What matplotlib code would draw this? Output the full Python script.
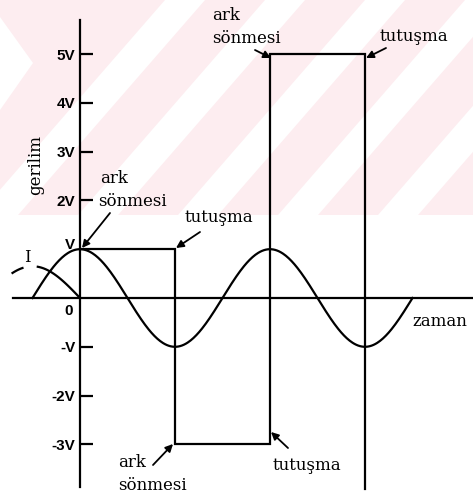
import numpy as np
import matplotlib
matplotlib.use("Agg")
import matplotlib.pyplot as plt
from matplotlib.patches import Polygon

# Gerilim ekseni (V birimi) ve etiketleri
volt_ticks = [5, 4, 3, 2, -1, -2, -3]
volt_labels = ["5V", "4V", "3V", "2V", "-V", "-2V", "-3V"]

# Şebeke gerilimi: genlik V, zaman yarım periyot birimi
supply_amp = 1.0
supply_start, supply_end = -0.5, 3.5

# Akım (I), kesikli çizgi, sıfırdan geçişe kadar
current_amp = 0.65
current_start, current_end = -0.72, 0.0

# Ark gerilimi: ark sönmesi / tutuşma köşeleri
arc_t = [0, 1, 1, 2, 2, 3, 3]
arc_v = [1, 1, -3, -3, 5, 5, -3.92]

W, H = 473, 495
PX_T, PX_V = 95.0, 48.8   # piksel / birim
X0, Y0 = 80.0, 298.0      # orijinin piksel konumu


def px(x, y):
    # piksel konumunu veri koordinatına çevir
    return (x - X0) / PX_T, (Y0 - y) / PX_V


def fig_poly(points, color):
    return Polygon([(x / W, 1 - y / H) for x, y in points], closed=True,
                   transform=fig.transFigure, fc=color, ec="none", zorder=-5)


fig = plt.figure(figsize=(W / 100, H / 100), dpi=100)

# arka plandaki soluk pembe filigran
pink = "#fdedf0"
fig.patches.append(fig_poly([(0, 0), (W, 0), (W, 215), (0, 215)], pink))
slope = 1.15
for u in [185, 285, 385, 485, 585]:
    a, b = u - 20, u + 20
    band = [(a, 0), (b, 0), (b - 215 / slope, 215), (a - 215 / slope, 215)]
    fig.patches.append(fig_poly(band, "white"))
fig.patches.append(fig_poly([(0, 17), (33, 63), (0, 110)], "white"))

ax = fig.add_axes([0, 0, 1, 1])
ax.patch.set_alpha(0)
ax.set_zorder(2)
ax.set_xlim(px(0, 0)[0], px(W, 0)[0])
ax.set_ylim(px(0, H)[1], px(0, 0)[1])

lw = 1.6
ax.spines["top"].set_visible(False)
ax.spines["right"].set_visible(False)
ax.spines["left"].set_position(("data", 0))
ax.spines["bottom"].set_position(("data", 0))
ax.spines["left"].set_bounds(px(0, 487)[1], px(0, 20)[1])
ax.spines["bottom"].set_bounds(px(13, 0)[0], px(W, 0)[0])
ax.spines["left"].set_linewidth(lw)
ax.spines["bottom"].set_linewidth(lw)
ax.set_xticks([])
ax.set_yticks(volt_ticks)
ax.set_yticklabels(volt_labels, fontfamily="Liberation Sans", fontweight="bold", fontsize=11)
ax.tick_params(axis="y", direction="in", length=9.5, width=lw, pad=3.5)

# şebeke gerilimi
t = np.linspace(supply_start, supply_end, 400)
ax.plot(t, supply_amp * np.cos(np.pi * t), color="black", lw=lw)

# akım
ti = np.linspace(current_start, current_end, 100)
ax.plot(ti, -current_amp * np.sin(np.pi * ti), color="black", lw=lw,
        dashes=(6, 6, 40, 100))

# ark gerilimi
ax.plot(arc_t, arc_v, color="black", lw=lw, solid_joinstyle="miter")

serif = dict(fontfamily="DejaVu Serif", fontsize=12, color="black")
sans = dict(fontfamily="Liberation Sans", fontweight="bold", fontsize=11, color="black")

ax.text(*px(75, 245), "V", ha="right", va="center", **sans)
ax.text(*px(69, 311), "0", ha="center", va="center", **sans)
ax.text(*px(27, 258), "I", ha="center", va="center", **serif)
ax.text(*px(36, 165), "gerilim", ha="center", va="center", rotation=90, **serif)
ax.text(*px(412, 326), "zaman", ha="left", va="baseline", **serif)

labels = [("ark", 100, 183), ("sönmesi", 98, 206), ("tutuşma", 185, 222),
          ("ark", 212, 20), ("sönmesi", 212, 43), ("tutuşma", 380, 41),
          ("ark", 118, 467), ("sönmesi", 118, 490), ("tutuşma", 273, 470)]
for s, x, y in labels:
    ax.text(*px(x, y), s, ha="left", va="baseline", **serif)

arrows = [((110, 213), (82, 248)), ((200, 232), (176, 248)),
          ((255, 50), (271, 58)), ((386, 48), (366, 58)),
          ((153, 465), (173, 444)), ((288, 448), (271, 432))]
for (x1, y1), (x2, y2) in arrows:
    ax.annotate("", xy=px(x2, y2), xytext=px(x1, y1),
                arrowprops=dict(arrowstyle="-|>", color="black", lw=1.3,
                                mutation_scale=11, shrinkA=0, shrinkB=0))

fig.savefig("out.png", dpi=100)
